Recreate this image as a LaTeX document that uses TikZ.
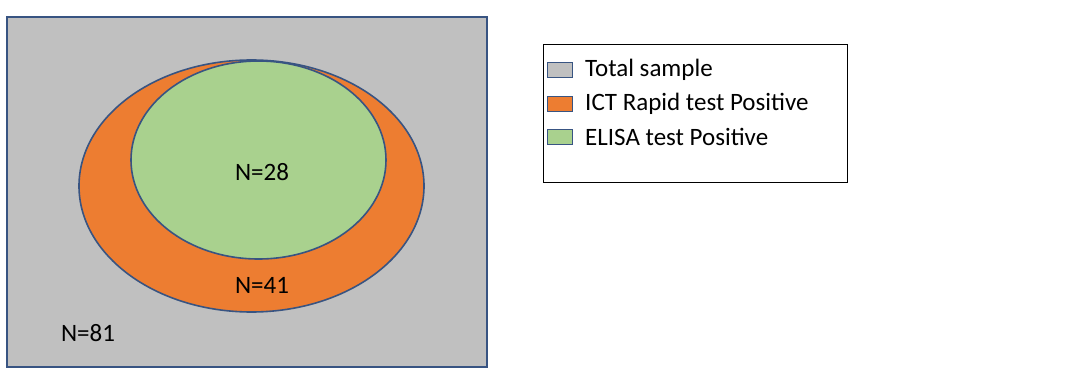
\documentclass[tikz,border=0pt]{standalone}
\usepackage{fontspec}
\setmainfont{Carlito}
\definecolor{totgray}{RGB}{192,192,192}
\definecolor{ictorange}{RGB}{237,125,49}
\definecolor{elisagreen}{RGB}{169,209,142}
\definecolor{edgeblue}{RGB}{56,84,130}
\begin{document}
\begin{tikzpicture}[x=1pt,y=-1pt,
  region/.style={draw=edgeblue,line width=1.6pt},
  lbl/.style={font=\fontsize{25}{30}\selectfont,text=black,inner sep=0pt},
  swatch/.style={draw=edgeblue,line width=1.3pt,minimum width=25pt,minimum height=15pt,inner sep=0pt},
  legendbox/.style={draw=black,line width=1pt}]
\useasboundingbox (0,0) rectangle (1085,372);
\fill[white] (0,0) rectangle (1085,372);
% total sample
\draw[region,fill=totgray] (7,17) rectangle (487,367);
\node[lbl] (n81) at (88,333) {N=81};
% ICT
\draw[region,fill=ictorange] (251.5,186) ellipse [x radius=172.5,y radius=126];
\node[lbl] (n41) at (262,285) {N=41};
% ELISA
\draw[region,fill=elisagreen] (258.5,160) ellipse [x radius=127.5,y radius=99];
\node[lbl] (n28) at (262,172) {N=28};
% legend
\draw[legendbox] (543,44) rectangle (847,182);
\node[swatch,fill=totgray] (s1) at (560,70) {};
\node[swatch,fill=ictorange] (s2) at (560,104) {};
\node[swatch,fill=elisagreen] (s3) at (560,137) {};
\node[lbl,anchor=west] (t1) at (585,70) {Total sample};
\node[lbl,anchor=west] (t2) at (585,104) {ICT Rapid test Positive};
\node[lbl,anchor=west] (t3) at (585,137) {ELISA test Positive};
\end{tikzpicture}
\end{document}
